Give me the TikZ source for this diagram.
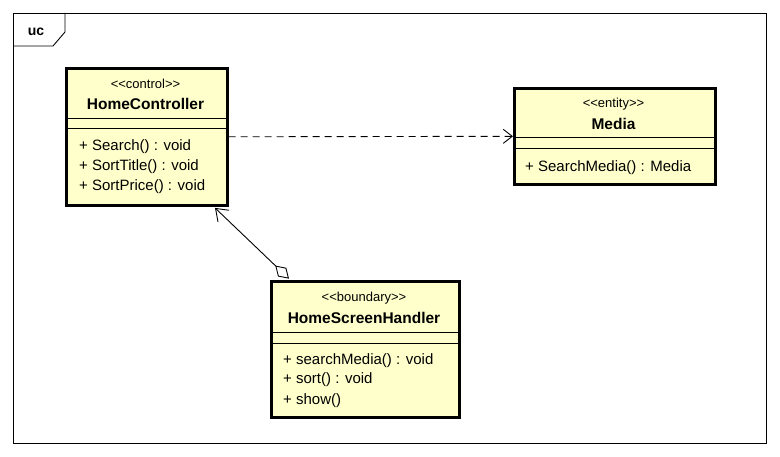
\documentclass[tikz,border=0pt]{standalone}
\usepackage{fontspec}
\setmainfont{Liberation Sans}[Ligatures=NoCommon]
\usetikzlibrary{arrows.meta,calc}

\definecolor{classfill}{HTML}{FFFFCC}

\newcommand{\stype}[1]{<{}<#1>{}>}

\tikzset{
  classbox/.style={draw=black, line width=2.6pt, fill=classfill, inner sep=0pt, anchor=north west},
  stereo/.style={font=\fontsize{13}{15}\selectfont, inner sep=0pt, anchor=base},
  cname/.style={font=\fontsize{15.5}{17}\selectfont\bfseries, inner sep=0pt, anchor=base},
  member/.style={font=\fontsize{15}{17}\selectfont, inner sep=0pt, anchor=base west},
  sepline/.style={line width=0.9pt},
  dep/.style={dash pattern=on 7pt off 5pt, line width=0.9pt, -{Straight Barb[length=9pt,width=14pt,line width=0.9pt]}},
  aggr/.style={line width=0.9pt, {Diamond[open,length=19pt,width=12pt,line width=0.9pt]}-{Straight Barb[length=11pt,width=16pt,line width=0.9pt]}},
}

\begin{document}
\begin{tikzpicture}[x=1pt,y=-1pt]
  \useasboundingbox (0,0) rectangle (780,457);

  % package frame with its name tab
  \draw[line width=0.9pt] (13,13) rectangle (766,443);
  \draw[line width=0.9pt] (13,46) -- (53,46) -- (65,32) -- (65,13);
  \node[font=\fontsize{14}{16}\selectfont\bfseries, anchor=base, inner sep=0pt] (uc) at (36,36) {uc};

  % HomeController
  \node[classbox, minimum width=161pt, minimum height=137pt] (hc) at (65,67) {};
  \node[stereo] (hcst) at (145.5,88.5) {\stype{control}};
  \node[cname] (hcname) at (145.5,110) {HomeController};
  \draw[sepline] (65,118) -- (226,118);
  \draw[sepline] (65,128) -- (226,128);
  \node[member] (hcm1) at (79,151) {+ Search() : void};
  \node[member] (hcm2) at (79,171) {+ SortTitle() : void};
  \node[member] (hcm3) at (79,191) {+ SortPrice() : void};

  % Media
  \node[classbox, minimum width=201pt, minimum height=96pt] (media) at (513,87) {};
  \node[stereo] (mst) at (613.5,107.5) {\stype{entity}};
  \node[cname] (mname) at (613.5,130) {Media};
  \draw[sepline] (513,137) -- (714,137);
  \draw[sepline] (513,148) -- (714,148);
  \node[member] (mm1) at (525,172) {+ SearchMedia() : Media};

  % HomeScreenHandler
  \node[classbox, minimum width=188pt, minimum height=136pt] (hsh) at (270,280) {};
  \node[stereo] (hst) at (364,301.5) {\stype{boundary}};
  \node[cname] (hname) at (364,324) {HomeScreenHandler};
  \draw[sepline] (270,332) -- (458,332);
  \draw[sepline] (270,343) -- (458,343);
  \node[member] (hm1) at (283,364) {+ searchMedia() : void};
  \node[member] (hm2) at (283,384) {+ sort() : void};
  \node[member] (hm3) at (283,405) {+ show()};

  % relations
  \draw[dep] (hc.east) -- (media.west);
  \coordinate (aggfrom) at ($(hsh.north west)+(19,-1.3)$);
  \coordinate (aggto) at ($(hc.south west)+(150,1.3)$);
  \draw[aggr] (aggfrom) -- (aggto);
\end{tikzpicture}
\end{document}
